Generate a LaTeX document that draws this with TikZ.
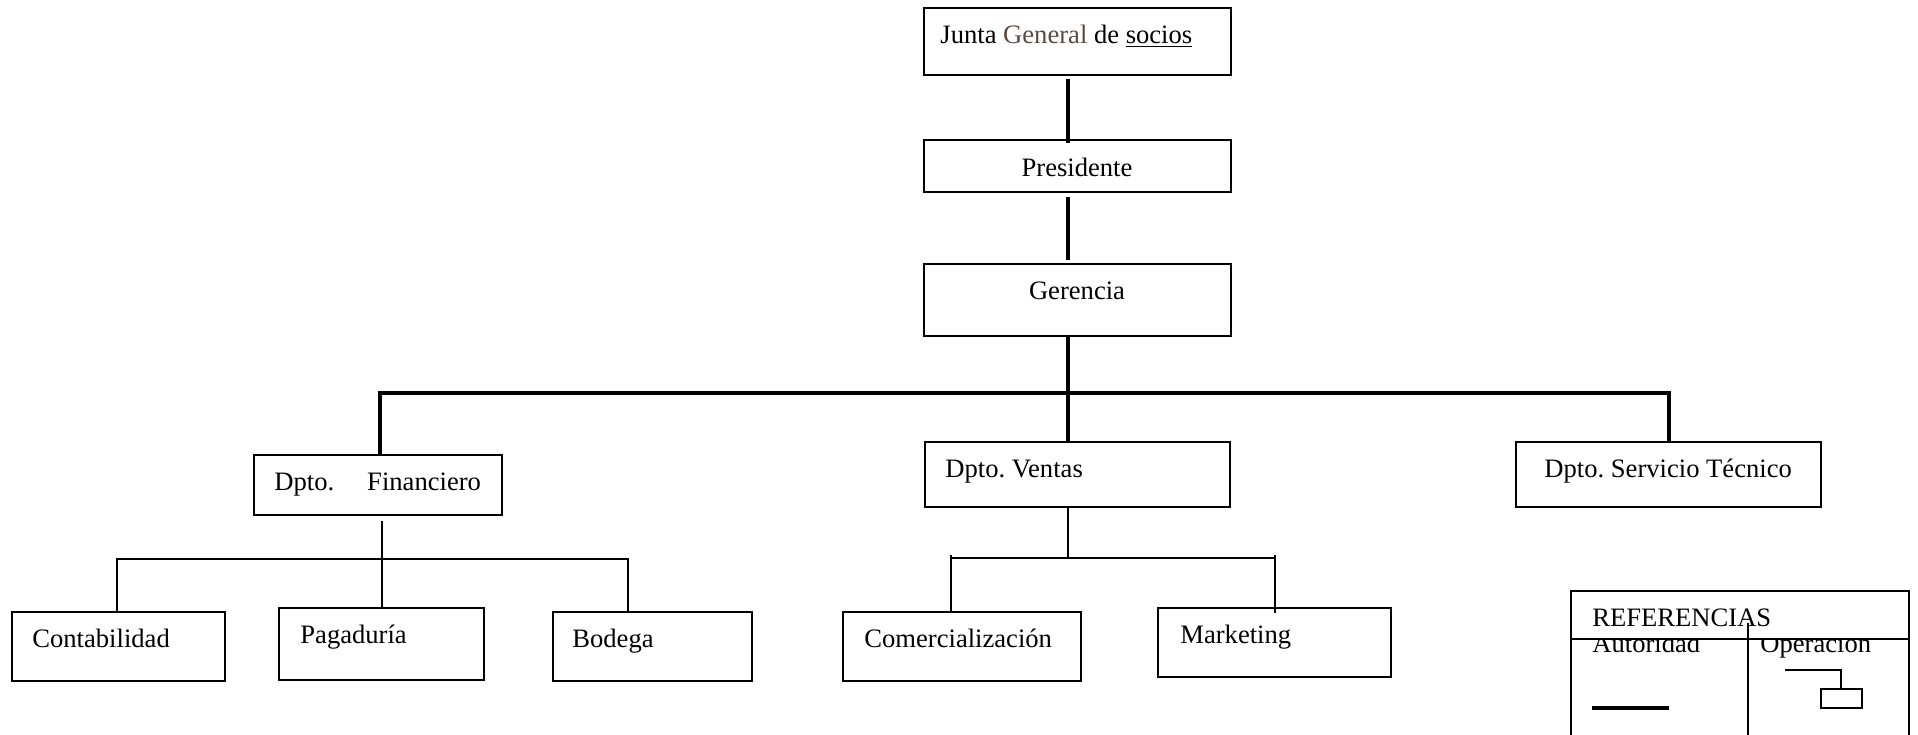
\documentclass[tikz,border=0pt]{standalone}
\usepackage{fontspec}
\setmainfont{Liberation Serif}
\usetikzlibrary{calc}
\definecolor{brownish}{HTML}{5B4A42}
\frenchspacing

% orgbox{name}{left}{top}{width}{height}, all in pixel units
\newcommand\orgbox[5]{\node[box, minimum width=#4*0.5pt, minimum height=#5*0.5pt] (#1) at (#2,#3) {};}

\begin{document}
\begin{tikzpicture}[x=0.5pt,y=-0.5pt,
  box/.style={draw, line width=1pt, rectangle, inner sep=0pt, outer sep=0pt, anchor=north west, fill=white},
  txt/.style={anchor=base west, inner sep=0pt, font=\fontsize{13.3}{15}\selectfont},
  ctxt/.style={txt, anchor=base},
  thickline/.style={line width=2.2pt},
  thinline/.style={line width=1pt}]

\clip (0,0) rectangle (1918,734);
\fill[white] (0,0) rectangle (1918,734);

% column and bus positions
\coordinate (spine) at (1068,0);
\coordinate (busL) at (380,393);
\coordinate (busR) at (1669,393);
\coordinate (finbusL) at (117,559);
\coordinate (finbusR) at (628,559);
\coordinate (venbusL) at (951,558);
\coordinate (venbusR) at (1275,558);

% boxes
\orgbox{junta}{924}{8}{307}{67}
\orgbox{pres}{924}{140}{307}{52}
\orgbox{ger}{924}{264}{307}{72}
\orgbox{fin}{254}{455}{248}{60}
\orgbox{ven}{925}{442}{305}{65}
\orgbox{ser}{1516}{442}{305}{65}
\orgbox{con}{12}{612}{213}{69}
\orgbox{pag}{279}{608}{205}{72}
\orgbox{bod}{553}{612}{199}{69}
\orgbox{com}{843}{612}{238}{69}
\orgbox{mar}{1158}{608}{233}{69}

% labels
\node[txt] (tjunta) at (940,43) {Junta {\color{brownish}General} de \underline{socios}};
\node[ctxt] (tpres) at (1077,176) {Presidente};
\node[ctxt] (tger) at (1077,299) {Gerencia};
\node[txt] (tfin) at (274,490) {Dpto.\hspace{16.5pt}Financiero};
\node[txt] (tven) at (945,477) {Dpto. Ventas};
\node[txt] (tser) at (1544,477) {Dpto. Servicio Técnico};
\node[txt] (tcon) at (32,647) {Contabilidad};
\node[txt] (tpag) at (300,643) {Pagaduría};
\node[txt] (tbod) at (572,647) {Bodega};
\node[txt] (tcom) at (864,647) {Comercialización};
\node[txt] (tmar) at (1180,643) {Marketing};

% authority lines
\draw[thickline, shorten <=2pt, shorten >=-1.5pt] (spine |- junta.south) -- (spine |- pres.north);
\draw[thickline, shorten <=2.5pt, shorten >=2pt] (spine |- pres.south) -- (spine |- ger.north);
\draw[thickline] (spine |- ger.south) -- (spine |- ven.north);
\draw[thickline] (fin.north -| busL) -- (busL) -- (busR) -- (ser.north -| busR);

% operation lines
\draw[thinline, shorten <=3pt] (fin.south -| pag.north) -- (pag.north);
\draw[thinline] (con.north -| finbusL) -- (finbusL) -- (finbusR) -- (bod.north -| finbusR);
\draw[thinline] (spine |- ven.south) -- (spine |- venbusL);
\draw[thinline] (venbusL) -- (venbusR);
\draw[thinline] ([yshift=1.5pt]venbusL) -- (com.north -| venbusL);
\draw[thinline] ([yshift=1.5pt]venbusR) -- ([yshift=-2.5pt]mar.north -| venbusR);

% legend
\node[box, fill=none, minimum width=338*0.5pt, minimum height=200*0.5pt] (legend) at (1571,591) {};
\node[txt] (taut) at (1592,652) {Autoridad};
\node[txt] (top) at (1760,652) {Operacion};
\node[box, minimum width=338*0.5pt, minimum height=48*0.5pt] (leghead) at (1571,591) {};
\node[txt] (tref) at (1592,626) {REFERENCIAS};
\coordinate (divtop) at (1748,623);
\draw[line width=1pt] (divtop) -- (divtop |- legend.south);
\coordinate (autoL) at (1592,708);
\coordinate (autoR) at (1669,708);
\draw[line width=2.2pt] (autoL) -- (autoR);
\node[box, minimum width=41*0.5pt, minimum height=19*0.5pt] (opbox) at (1821,689) {};
\coordinate (opstart) at (1785,670);
\draw[line width=1pt] (opstart) -| (opbox.north -| 1841,0);
\end{tikzpicture}
\end{document}
